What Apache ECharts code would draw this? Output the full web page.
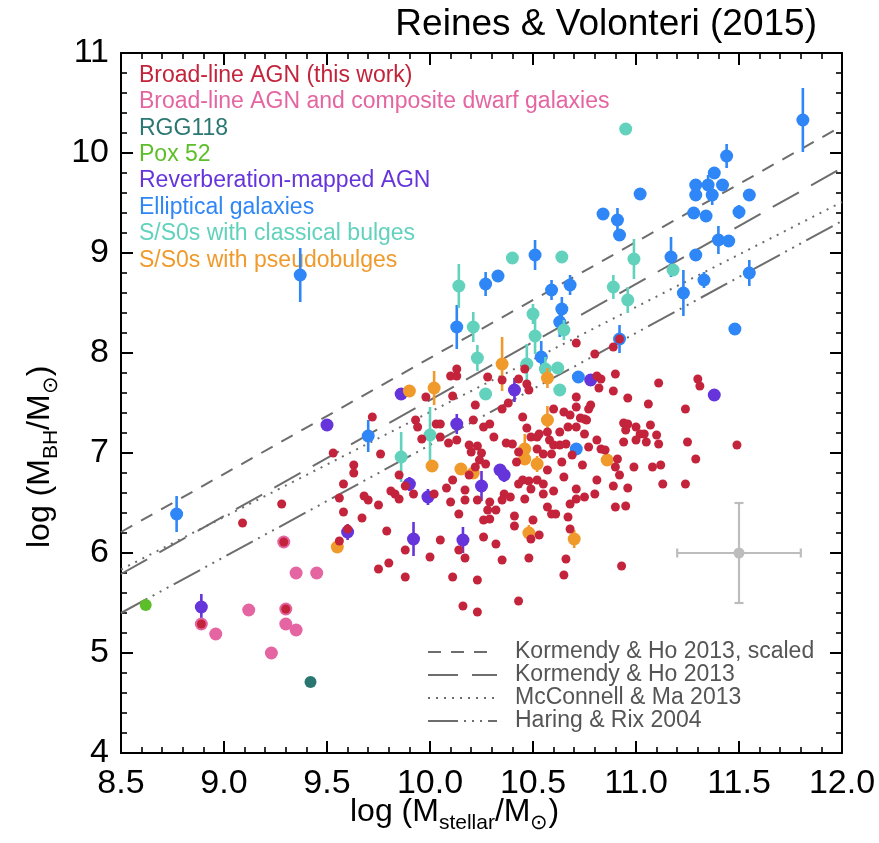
<!DOCTYPE html>
<html>
<head>
<meta charset="utf-8">
<script src="https://cdn.jsdelivr.net/npm/echarts@6/dist/echarts.min.js"></script>
<style>
  html, body { margin: 0; padding: 0; background: #fff; }
  #chart { width: 879px; height: 843px; }
</style>
</head>
<body>
<div id="chart"></div>
<script>
// ---- axis setup ----
const xRange = [8.5, 12.0];
const yRange = [4, 11];

// ---- data: [log Mstellar, log MBH, err(-), err(+)] ----
const broadLineAGN = [
  [8.89,5.29],[9.29,6.11],[9.30,5.44],[9.09,6.30],[9.28,6.49],[9.56,6.55],
  [10.13,7.84],[10.10,7.77],[10.13,7.77],[9.98,7.56],[10.11,7.57],[10.28,7.76],[10.35,7.73],
  [10.46,7.84],[10.43,7.74],[10.47,7.69],[10.48,7.63],[10.22,7.48],[9.72,7.36],[9.93,7.33],
  [10.03,7.29],[10.05,7.29],[10.21,7.33],[10.29,7.29],[10.26,7.26],[10.35,7.44],[10.38,7.50],
  [10.45,7.36],[10.47,7.25],[9.53,7.00],[9.76,6.99],[9.94,7.26],[9.96,7.14],[10.05,7.16],
  [10.09,7.10],[10.13,7.13],[10.19,7.08],[10.23,7.07],[10.20,7.01],[10.25,7.00],[10.31,7.16],
  [10.37,7.10],[10.40,7.09],[10.43,7.01],[10.42,6.91],[10.24,6.93],[10.27,6.89],[10.22,6.86],
  [10.19,6.78],[9.63,6.88],[9.63,6.80],[9.58,6.69],[9.85,6.78],[9.68,6.57],[9.70,6.53],
  [9.75,6.48],[9.81,6.62],[9.83,6.59],[9.85,6.54],[9.92,6.59],[9.88,6.67],[10.02,6.59],
  [10.11,6.73],[10.08,6.65],[10.17,6.63],[10.17,6.53],[10.10,6.51],[10.14,6.39],[10.23,6.53],
  [10.29,6.51],[10.36,6.59],[10.39,6.56],[10.28,6.43],[10.29,6.34],[10.32,6.43],[10.35,6.53],
  [10.26,6.33],[10.45,6.73],[10.43,6.69],[10.48,6.72],[10.52,6.73],[10.55,6.69],[10.49,6.64],
  [10.46,6.54],[10.55,6.59],[10.60,6.62],[10.65,6.76],[10.71,6.64],[10.71,6.54],[10.68,6.49],
  [10.57,6.46],[10.61,6.39],[10.67,6.36],[10.59,6.39],[10.50,6.33],[10.41,6.37],[10.41,6.27],
  [9.58,6.41],[9.67,6.35],[9.60,6.24],[9.56,6.12],[9.79,6.22],[9.88,6.03],[10.05,6.13],
  [10.00,5.96],[10.14,6.03],[10.17,5.95],[10.26,6.16],[10.32,6.09],[10.35,5.93],[10.49,6.14],
  [10.53,6.18],[10.68,6.24],[10.66,5.94],[10.65,5.78],[9.75,5.84],[9.80,5.90],[9.88,5.76],
  [10.11,5.76],
  [10.60,7.44],[10.65,7.41],[10.68,7.38],[10.71,7.46],[10.71,7.56],[10.67,7.26],[10.63,7.21],
  [10.57,7.21],[10.58,7.13],[10.60,7.08],[10.63,7.08],[10.66,7.09],[10.64,6.91],[10.57,6.83],
  [10.52,7.16],[10.53,7.19],[10.49,7.16],[10.52,7.04],[10.55,6.99],[10.59,6.99],[10.69,6.98],
  [10.71,7.26],
  [10.92,8.14],[10.89,8.06],[10.71,8.10],[10.80,7.99],
  [10.81,7.77],[10.83,7.74],[10.90,7.79],[10.82,7.65],[10.89,7.62],[11.11,7.70],[10.96,7.55],
  [11.06,7.49],[11.30,7.74],[11.31,7.67],[11.24,7.44],[10.73,7.35],[10.75,7.34],[10.78,7.48],
  [10.77,7.44],[10.76,7.33],[10.94,7.30],[10.96,7.29],[11.00,7.26],[11.02,7.19],[11.07,7.28],
  [11.10,7.18],[11.04,7.19],[10.95,7.23],[10.94,7.11],[11.00,7.13],[11.05,7.11],[11.11,7.09],
  [11.25,7.11],[11.29,6.94],[11.49,7.08],[10.75,7.19],[10.81,7.13],[10.83,7.04],[10.85,7.03],
  [10.77,7.06],[10.74,6.88],[10.91,6.94],[10.90,6.86],[10.99,6.86],[11.08,6.86],[11.12,6.88],
  [10.92,6.78],[10.81,6.73],[10.89,6.67],[10.96,6.65],[11.13,6.69],[11.24,6.69],[10.75,6.56],
  [10.80,6.59],[10.90,6.46],[10.95,6.47],
  [10.16,5.47],[10.23,5.41],[10.43,5.52],[10.48,5.95],[10.23,5.73],[10.93,5.87]
];
const compositeDwarfs = [
  [8.89,5.29],[8.96,5.19],[9.12,5.43],[9.23,5.00],[9.29,6.11],[9.30,5.44],[9.30,5.29],
  [9.35,5.23],[9.35,5.80],[9.45,5.80]
];
const rgg118 = [[9.42,4.71]];
const pox52 = [[8.62,5.48]];
const reverberationAGN = [
  [8.89,5.46,0.13],[9.50,7.28,0.05],[9.60,6.21,0.08],[9.86,7.59,0.05],[10.41,7.63,0.12],
  [10.13,7.29,0.10],[9.90,6.69,0.07],[9.99,6.56,0.08],[9.92,6.14,0.17],[10.16,6.13,0.13],
  [10.25,6.67,0.15],[10.34,6.83,0.05],[10.36,6.78,0.07],[10.78,7.73,0.05],[11.38,7.58,0.05]
];
const ellipticals = [
  [8.77,6.39,0.18],[9.37,8.78,0.27],[9.70,7.17,0.16],[10.13,8.26,0.22],[10.27,8.69,0.12],
  [10.33,8.77,0.05],[10.51,8.98,0.15],[10.59,8.63,0.10],[10.68,8.68,0.10],[10.64,8.44,0.12],
  [10.63,8.31,0.15],[10.54,7.96,0.16],[10.72,7.76,0.05],[10.71,7.04,0.05],[11.81,10.33,0.32],
  [11.44,9.97,0.12],[11.38,9.80,0.05],[11.29,9.68,0.05],[11.35,9.68,0.10],[11.42,9.68,0.05],
  [11.29,9.58,0.05],[11.37,9.58,0.10],[11.55,9.58,0.05],[11.02,9.59,0.05],[10.84,9.39,0.05],
  [10.91,9.33,0.12],[10.92,9.18,0.05],[11.28,9.40,0.05],[11.34,9.37,0.05],[11.50,9.41,0.07],
  [11.17,8.96,0.20,0.43],[11.29,8.98,0.05],[11.40,9.13,0.14],[11.45,9.12,0.05],[11.33,8.73,0.08],
  [11.55,8.80,0.13],[11.23,8.60,0.23],[11.48,8.24,0.05],[10.92,8.14,0.14]
];
const classicalBulges = [
  [10.95,10.24,0.05],[10.14,8.67,0.22],[10.21,8.26,0.15],[10.23,7.95,0.13],[10.27,7.59,0.05],
  [10.50,8.39,0.10],[10.51,8.17,0.18],[10.65,8.23,0.10],[10.47,7.89,0.20],[10.56,7.84,0.12],
  [10.62,7.85,0.05],[10.63,7.63,0.05],[9.86,6.96,0.25],[10.00,7.18,0.28,0.05],[10.64,8.96,0.05],
  [10.99,8.94,0.20],[11.18,8.83,0.05],[10.89,8.66,0.12],[10.96,8.53,0.13],[10.40,8.95,0.05]
];
const pseudoBulges = [
  [10.35,7.89,0.27],[10.57,7.75,0.10],[9.90,7.62,0.05],[10.02,7.65,0.17],[10.01,6.87,0.05],
  [9.55,6.06,0.06],[10.15,6.84,0.05],[10.21,6.80,0.05],[10.46,7.04,0.15],[10.46,6.94,0.05],
  [10.52,6.89,0.08],[10.57,7.33,0.14],[10.48,6.20,0.08],[10.70,6.14,0.09],[10.86,6.93,0.05]
];
// typical uncertainty: [x, y, xerr, yerr]
const typicalError = [[11.5, 6.0, 0.3, 0.5]];

// scaling relations, end points over the plotted mass range
const kh13Scaled = [[8.5, 6.21], [12.0, 10.27]];
const kh13 = [[8.5, 5.79], [12.0, 9.85]];
const mm13 = [[8.5, 5.835], [12.0, 9.51]];
const hr04 = [[8.5, 5.40], [12.0, 9.32]];

// ---- legend labels ----
const groupLabels = [
  'Broad-line AGN (this work)',
  'Broad-line AGN and composite dwarf galaxies',
  'RGG118',
  'Pox 52',
  'Reverberation-mapped AGN',
  'Elliptical galaxies',
  'S/S0s with classical bulges',
  'S/S0s with pseudobulges'
];
const groupColors = ['#c3243b','#e465a1','#2a7772','#5cbf2a','#6534db','#2f86f7','#62d2bd','#f19a2c'];
const relationLabels = ['Kormendy & Ho 2013, scaled','Kormendy & Ho 2013','McConnell & Ma 2013','Haring & Rix 2004'];
const relationDash = [[13, 10], [30, 14], [2, 6], [30, 6, 2, 6, 2, 6, 2, 6]];
const lineGray = '#6d6d6d';

const FONT = '"Liberation Sans", Arial, Helvetica, sans-serif';

const chart = echarts.init(document.getElementById('chart'), null, { renderer: 'canvas' });

function errorBarSeries(data, color, z) {
  return {
    type: 'custom',
    silent: true,
    z: z,
    clip: true,
    data: data,
    renderItem: function (params, api) {
      const x = api.value(0), y = api.value(1);
      const lo = api.value(2);
      const hiRaw = api.value(3);
      const hi = (hiRaw === undefined || isNaN(hiRaw)) ? lo : hiRaw;
      const p1 = api.coord([x, y - lo]);
      const p2 = api.coord([x, y + hi]);
      return {
        type: 'line',
        shape: { x1: p1[0], y1: p1[1], x2: p2[0], y2: p2[1] },
        style: { stroke: color, lineWidth: 2.6 }
      };
    },
    encode: { x: 0, y: 1 }
  };
}

function dotSeries(name, data, color, size, z) {
  return {
    name: name,
    type: 'scatter',
    data: data.map(d => [d[0], d[1]]),
    symbol: 'circle',
    symbolSize: size,
    itemStyle: { color: color, opacity: 1 },
    z: z,
    silent: true
  };
}

function relationSeries(name, data, dash) {
  return {
    name: name,
    type: 'line',
    data: data,
    showSymbol: false,
    symbol: 'none',
    silent: true,
    z: 1,
    lineStyle: { color: lineGray, width: 2, type: dash }
  };
}

const series = [
  relationSeries(relationLabels[0], kh13Scaled, relationDash[0]),
  relationSeries(relationLabels[1], kh13, relationDash[1]),
  relationSeries(relationLabels[2], mm13, relationDash[2]),
  relationSeries(relationLabels[3], hr04, relationDash[3]),
  // typical error cross
  {
    type: 'custom',
    silent: true,
    z: 2,
    data: typicalError,
    renderItem: function (params, api) {
      const x = api.value(0), y = api.value(1), ex = api.value(2), ey = api.value(3);
      const c = api.coord([x, y]);
      const l = api.coord([x - ex, y]), r = api.coord([x + ex, y]);
      const t = api.coord([x, y + ey]), b = api.coord([x, y - ey]);
      const cap = 4.5;
      const st = { stroke: '#bdbdbd', lineWidth: 2.2 };
      return {
        type: 'group',
        children: [
          { type: 'line', shape: { x1: l[0], y1: l[1], x2: r[0], y2: r[1] }, style: st },
          { type: 'line', shape: { x1: t[0], y1: t[1], x2: b[0], y2: b[1] }, style: st },
          { type: 'line', shape: { x1: l[0], y1: l[1] - cap, x2: l[0], y2: l[1] + cap }, style: st },
          { type: 'line', shape: { x1: r[0], y1: r[1] - cap, x2: r[0], y2: r[1] + cap }, style: st },
          { type: 'line', shape: { x1: t[0] - cap, y1: t[1], x2: t[0] + cap, y2: t[1] }, style: st },
          { type: 'line', shape: { x1: b[0] - cap, y1: b[1], x2: b[0] + cap, y2: b[1] }, style: st },
          { type: 'circle', shape: { cx: c[0], cy: c[1], r: 5.5 }, style: { fill: '#bdbdbd' } }
        ]
      };
    },
    encode: { x: 0, y: 1 }
  },
  errorBarSeries(ellipticals, groupColors[5], 3),
  dotSeries(groupLabels[5], ellipticals, groupColors[5], 13, 3),
  errorBarSeries(classicalBulges, groupColors[6], 4),
  dotSeries(groupLabels[6], classicalBulges, groupColors[6], 13, 4),
  errorBarSeries(reverberationAGN, groupColors[4], 5),
  dotSeries(groupLabels[4], reverberationAGN, groupColors[4], 13, 5),
  errorBarSeries(pseudoBulges, groupColors[7], 6),
  dotSeries(groupLabels[7], pseudoBulges, groupColors[7], 13, 6),
  dotSeries(groupLabels[1], compositeDwarfs, groupColors[1], 13, 7),
  dotSeries(groupLabels[2], rgg118, groupColors[2], 12, 7),
  dotSeries(groupLabels[3], pox52, groupColors[3], 12, 7),
  dotSeries(groupLabels[0], broadLineAGN, groupColors[0], 9, 8)
];

// legend texts
const graphics = [];
groupLabels.forEach((t, i) => {
  graphics.push({
    type: 'text', left: 139, top: 64 + i * 26.4, silent: true,
    style: { text: t, fill: groupColors[i], font: '23px ' + FONT }
  });
});
relationLabels.forEach((t, i) => {
  const yy = 652 + i * 23;
  graphics.push({
    type: 'line', silent: true,
    shape: { x1: 428, y1: yy, x2: 497, y2: yy },
    style: { stroke: lineGray, lineWidth: 2, lineDash: relationDash[i] }
  });
  graphics.push({
    type: 'text', left: 515, top: yy - 12, silent: true,
    style: { text: t, fill: '#555', font: '23px ' + FONT }
  });
});
// title
graphics.push({
  type: 'text', right: 62, top: 6, silent: true,
  style: { text: 'Reines & Volonteri (2015)', fill: '#000', font: '37px ' + FONT }
});
// axis titles
const titleRich = {
  a: { fontSize: 32, fontFamily: FONT, fill: '#000', lineHeight: 44, verticalAlign: 'middle' },
  s: { fontSize: 21, fontFamily: FONT, fill: '#000', lineHeight: 44, verticalAlign: 'bottom' }
};
graphics.push({
  type: 'text', left: 350, top: 796, silent: true,
  style: { text: '{a|log (M}{s|stellar}{a|/M}{s|⊙}{a|)}', rich: titleRich }
});
graphics.push({
  type: 'text', x: 18, y: 548, rotation: Math.PI / 2, silent: true,
  style: { text: '{a|log (M}{s|BH}{a|/M}{s|⊙}{a|)}', rich: titleRich }
});

const axisLineStyle = { color: '#000', width: 2 };
function xAxisDef(pos, labels) {
  return {
    type: 'value', position: pos, min: xRange[0], max: xRange[1], interval: 0.5,
    axisLine: { show: true, onZero: false, lineStyle: axisLineStyle },
    axisTick: { show: true, inside: true, length: 12, lineStyle: { color: '#000', width: 2 } },
    minorTick: { show: true, splitNumber: 5, length: 6, lineStyle: { color: '#000', width: 1.6 } },
    splitLine: { show: false },
    axisLabel: {
      show: labels, fontSize: 34, color: '#000', fontFamily: FONT, margin: 14,
      showMinLabel: true, showMaxLabel: true,
      formatter: v => v.toFixed(1)
    }
  };
}
function yAxisDef(pos, labels) {
  return {
    type: 'value', position: pos, min: yRange[0], max: yRange[1], interval: 1,
    axisLine: { show: true, onZero: false, lineStyle: axisLineStyle },
    axisTick: { show: true, inside: true, length: 12, lineStyle: { color: '#000', width: 2 } },
    minorTick: { show: true, splitNumber: 5, length: 6, lineStyle: { color: '#000', width: 1.6 } },
    splitLine: { show: false },
    axisLabel: {
      show: labels, fontSize: 34, color: '#000', fontFamily: FONT, margin: 12,
      showMinLabel: true, showMaxLabel: true,
      formatter: v => String(Math.round(v))
    }
  };
}

chart.setOption({
  animation: false,
  backgroundColor: '#fff',
  grid: { left: 121, top: 53, width: 721, height: 700, containLabel: false },
  xAxis: [xAxisDef('bottom', true), xAxisDef('top', false)],
  yAxis: [yAxisDef('left', true), yAxisDef('right', false)],
  series: series,
  graphic: graphics
});
</script>
</body>
</html>
